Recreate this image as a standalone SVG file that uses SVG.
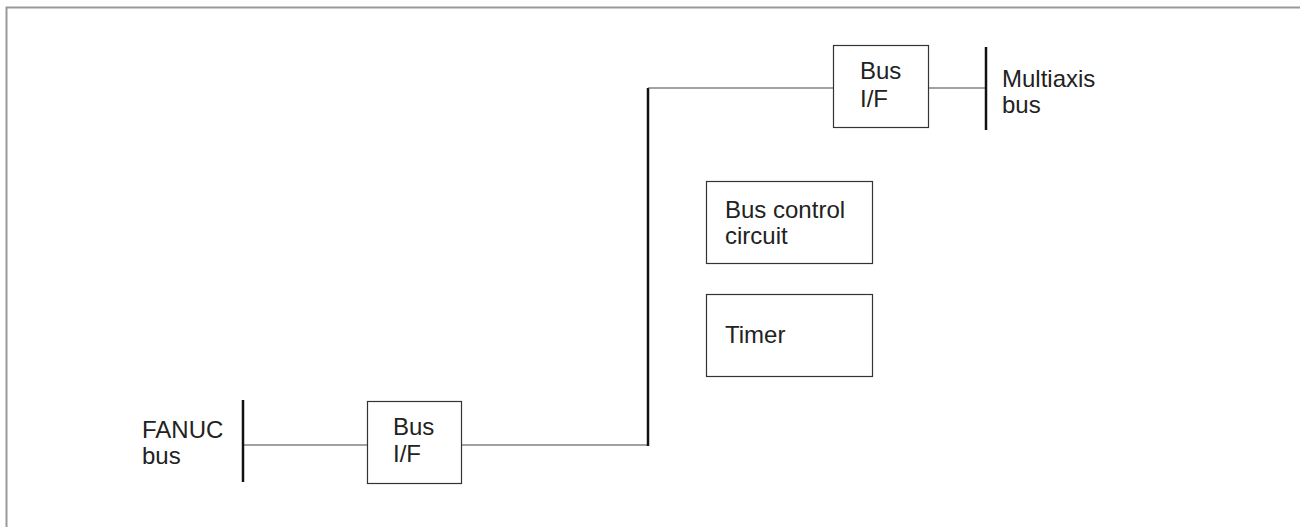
<svg xmlns="http://www.w3.org/2000/svg" width="1300" height="527" viewBox="0 0 1300 527">
<style>
.box{fill:#fff;stroke:#333;stroke-width:1.2}
.ln{stroke:#444;stroke-width:1.2;fill:none}
.bar{stroke:#111;stroke-width:2.5;fill:none}
text{font-family:"Liberation Sans",Arial,sans-serif;font-size:24px;fill:#222}
</style>
<rect width="1300" height="527" fill="#fff"/>
<path d="M6.5 527 V7.5 H1300" fill="none" stroke="#999" stroke-width="2"/>
<g id="connectors">
<line class="ln" x1="243" y1="445" x2="367" y2="445"/>
<line class="ln" x1="462" y1="445" x2="648" y2="445"/>
<line class="bar" x1="648" y1="446" x2="648" y2="88" stroke-width="2"/>
<line class="ln" x1="648" y1="88" x2="833" y2="88"/>
<line class="ln" x1="929" y1="88" x2="986" y2="88"/>
</g>
<g id="fanuc-bus">
<line class="bar" x1="243" y1="400" x2="243" y2="482"/>
<text x="142" y="438">FANUC</text>
<text x="142" y="464">bus</text>
</g>
<g id="bus-if-1">
<rect class="box" x="367.5" y="401.5" width="94" height="82"/>
<text x="393" y="435">Bus</text>
<text x="393" y="462">I/F</text>
</g>
<g id="bus-if-2">
<rect class="box" x="833.5" y="45.5" width="95" height="82"/>
<text x="860" y="79">Bus</text>
<text x="860" y="107">I/F</text>
</g>
<g id="multiaxis-bus">
<line class="bar" x1="986" y1="47" x2="986" y2="130"/>
<text x="1002" y="87">Multiaxis</text>
<text x="1002" y="113">bus</text>
</g>
<g id="bus-control">
<rect class="box" x="706.5" y="181.5" width="166" height="82"/>
<text x="725" y="218">Bus control</text>
<text x="725" y="244">circuit</text>
</g>
<g id="timer">
<rect class="box" x="706.5" y="294.5" width="166" height="82"/>
<text x="725" y="343">Timer</text>
</g>
</svg>
